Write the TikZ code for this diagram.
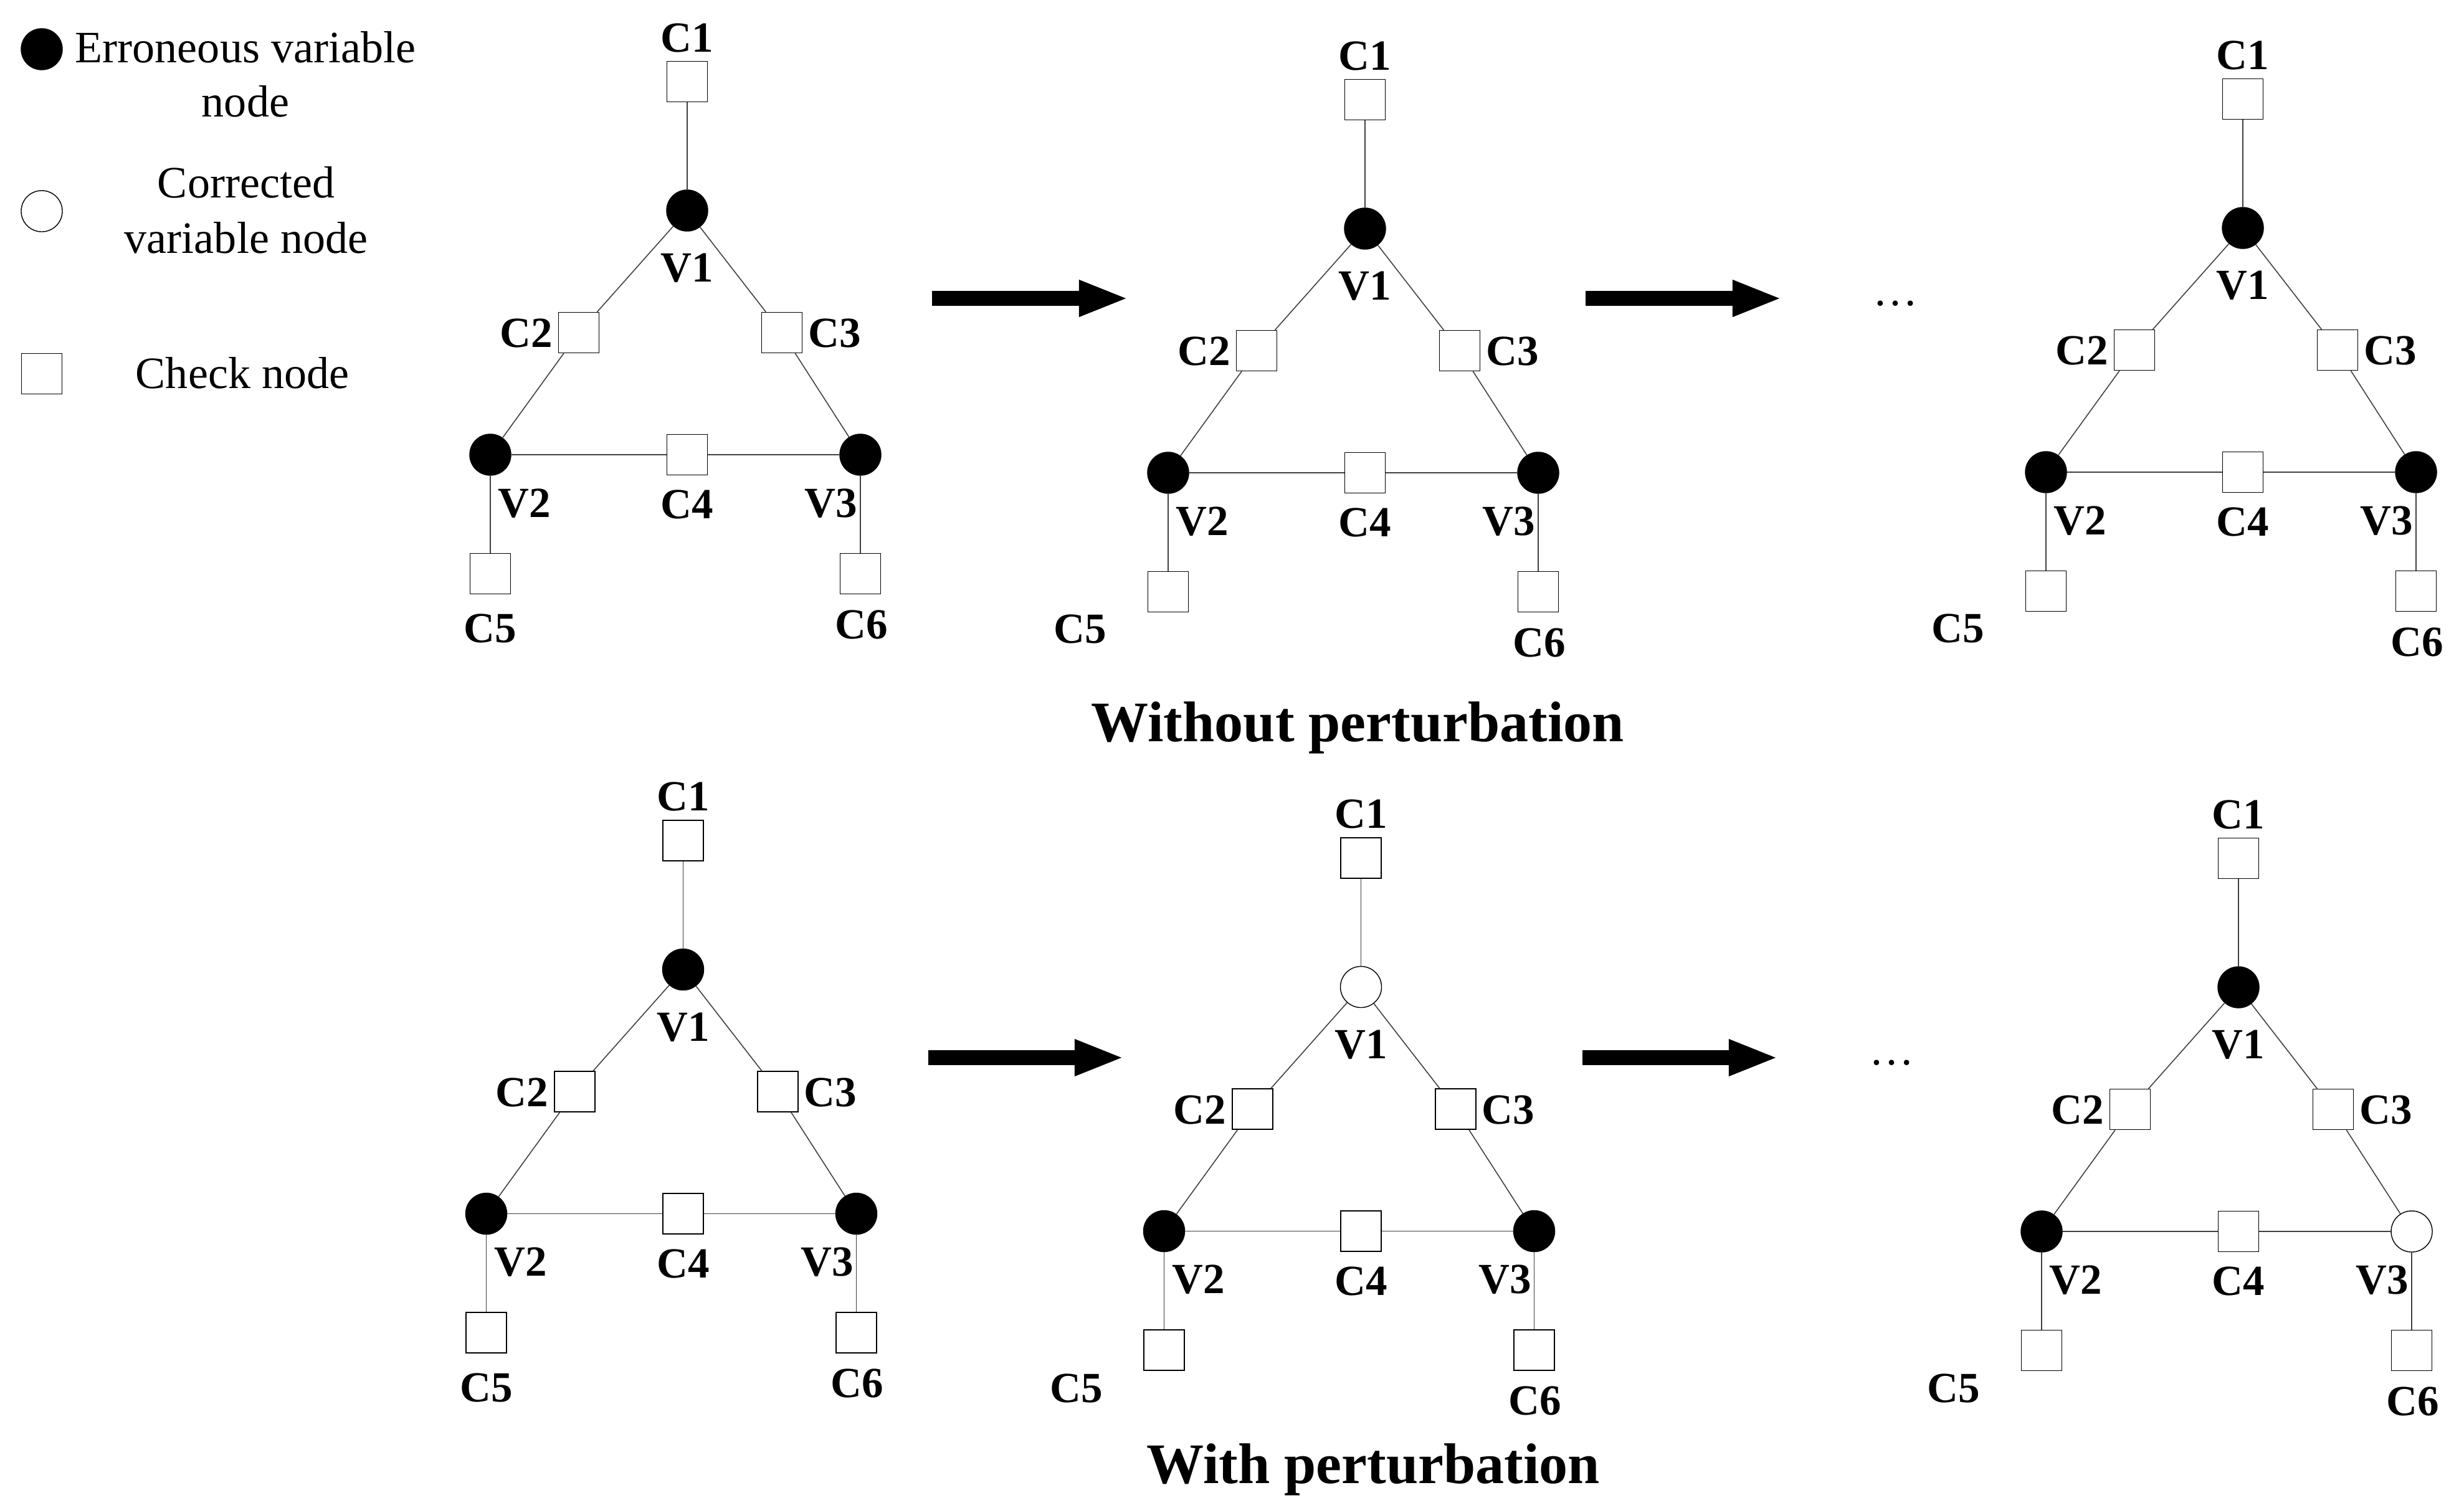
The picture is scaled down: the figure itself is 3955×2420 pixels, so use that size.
\documentclass[tikz,border=0pt]{standalone}
\usepackage{fontspec}
\setmainfont{Liberation Serif}
\usetikzlibrary{arrows.meta}
\newcommand{\labfont}{\fontsize{19.63pt}{23pt}\selectfont\bfseries}
\newcommand{\legfont}{\fontsize{20.49pt}{24pt}\selectfont}
\newcommand{\titfont}{\fontsize{26.18pt}{30pt}\selectfont\bfseries}
\tikzset{
  varnode/.style={circle, draw=black, line width=0.4pt, fill=black, minimum size=0.66cm, inner sep=0pt},
  cornode/.style={circle, draw=black, line width=0.4pt, fill=white, minimum size=0.66cm, inner sep=0pt},
  chknode/.style={rectangle, draw=black, line width=0.4pt, fill=white, minimum size=0.65cm, inner sep=0pt},
  edge/.style={draw=black!75, line width=0.45pt},
  lab/.style={font=\labfont, anchor=base, inner sep=0pt},
  legtext/.style={font=\legfont, anchor=base, inner sep=0pt},
  tittext/.style={font=\titfont, anchor=base, inner sep=0pt},
  bigarrow/.style={line width=6.83pt, -{Triangle[length=22.8pt, width=15.1pt]}},
}
% #1 prefix, #2 x, #3 y, #4 V1 style, #5 V2 style, #6 V3 style, #7 C5 label dx, #8 C5 label dy
\newcommand{\ldpcpanel}[8]{%
\begin{scope}[shift={(#2,#3)}]
  \node[#4] (#1V1) at (0,0) {};
  \node[chknode] (#1C1) at (0,-207) {};
  \node[chknode] (#1C2) at (-174,196) {};
  \node[chknode] (#1C3) at (152,196) {};
  \node[#5] (#1V2) at (-316,392) {};
  \node[chknode] (#1C4) at (0,392) {};
  \node[#6] (#1V3) at (278,392) {};
  \node[chknode] (#1C5) at (-316,583) {};
  \node[chknode] (#1C6) at (278,583) {};
  \draw[edge] (#1C1) -- (#1V1);
  \draw[edge] (#1V1) -- (#1C2);
  \draw[edge] (#1C2) -- (#1V2);
  \draw[edge] (#1V1) -- (#1C3);
  \draw[edge] (#1C3) -- (#1V3);
  \draw[edge] (#1V2) -- (#1C4);
  \draw[edge] (#1C4) -- (#1V3);
  \draw[edge] (#1V2) -- (#1C5);
  \draw[edge] (#1V3) -- (#1C6);
  \node[lab] (#1LC1) at (0,-255) {C1};
  \node[lab] (#1LV1) at (0,114.5) {V1};
  \node[lab] (#1LC2) at (-258.5,219.5) {C2};
  \node[lab] (#1LC3) at (236.5,219.5) {C3};
  \node[lab] (#1LV2) at (-261,492) {V2};
  \node[lab] (#1LC4) at (0,494.5) {C4};
  \node[lab] (#1LV3) at (231,492) {V3};
  \node[lab] (#1LC5) at (#7,#8) {C5};
  \node[lab] (#1LC6) at (279.5,687) {C6};
\end{scope}}
\begin{document}
\begin{tikzpicture}[x=0.01cm, y=-0.01cm]
  \useasboundingbox[fill=white] (0,0) rectangle (3955,2420);
  % legend
  \node[varnode] (legV) at (67,79) {};
  \node[legtext] (legVa) at (394,100) {Erroneous variable};
  \node[legtext] (legVb) at (394,187) {node};
  \node[cornode] (legW) at (67,339) {};
  \node[legtext] (legWa) at (395,317) {Corrected};
  \node[legtext] (legWb) at (395,406) {variable node};
  \node[chknode] (legC) at (67,600) {};
  \node[legtext] (legCa) at (389,623) {Check node};
  % top row
  \ldpcpanel{ta}{1103}{338}{varnode}{varnode}{varnode}{-316}{693}
  \ldpcpanel{tb}{2191}{367}{varnode}{varnode}{varnode}{-457}{665}
  \ldpcpanel{tc}{3600}{366}{varnode}{varnode}{varnode}{-457}{665}
  % bottom row
  \ldpcpanel{ba}{1096.5}{1556.5}{varnode}{varnode}{varnode}{-316}{694}
  \ldpcpanel{bb}{2184.5}{1584.5}{cornode}{varnode}{varnode}{-457}{667}
  \ldpcpanel{bc}{3593}{1585}{varnode}{varnode}{cornode}{-457}{666}
  % arrows
  \coordinate (ta1) at (1496,479); \coordinate (ta2) at (1812,479);
  \coordinate (tb1) at (2545,479); \coordinate (tb2) at (2861,479);
  \coordinate (ba1) at (1490,1698); \coordinate (ba2) at (1805,1698);
  \coordinate (bb1) at (2540,1698); \coordinate (bb2) at (2855,1698);
  \draw[bigarrow] (ta1) -- (ta2);
  \draw[bigarrow] (tb1) -- (tb2);
  \draw[bigarrow] (ba1) -- (ba2);
  \draw[bigarrow] (bb1) -- (bb2);
  % dots
  \node[legtext] (tdots) at (3042,490) {…};
  \node[legtext] (bdots) at (3036.5,1709) {…};
  % titles
  \node[tittext] (ttitle) at (2179.5,1190) {Without perturbation};
  \node[tittext] (btitle) at (2204.5,2381) {With perturbation};
\end{tikzpicture}
\end{document}
